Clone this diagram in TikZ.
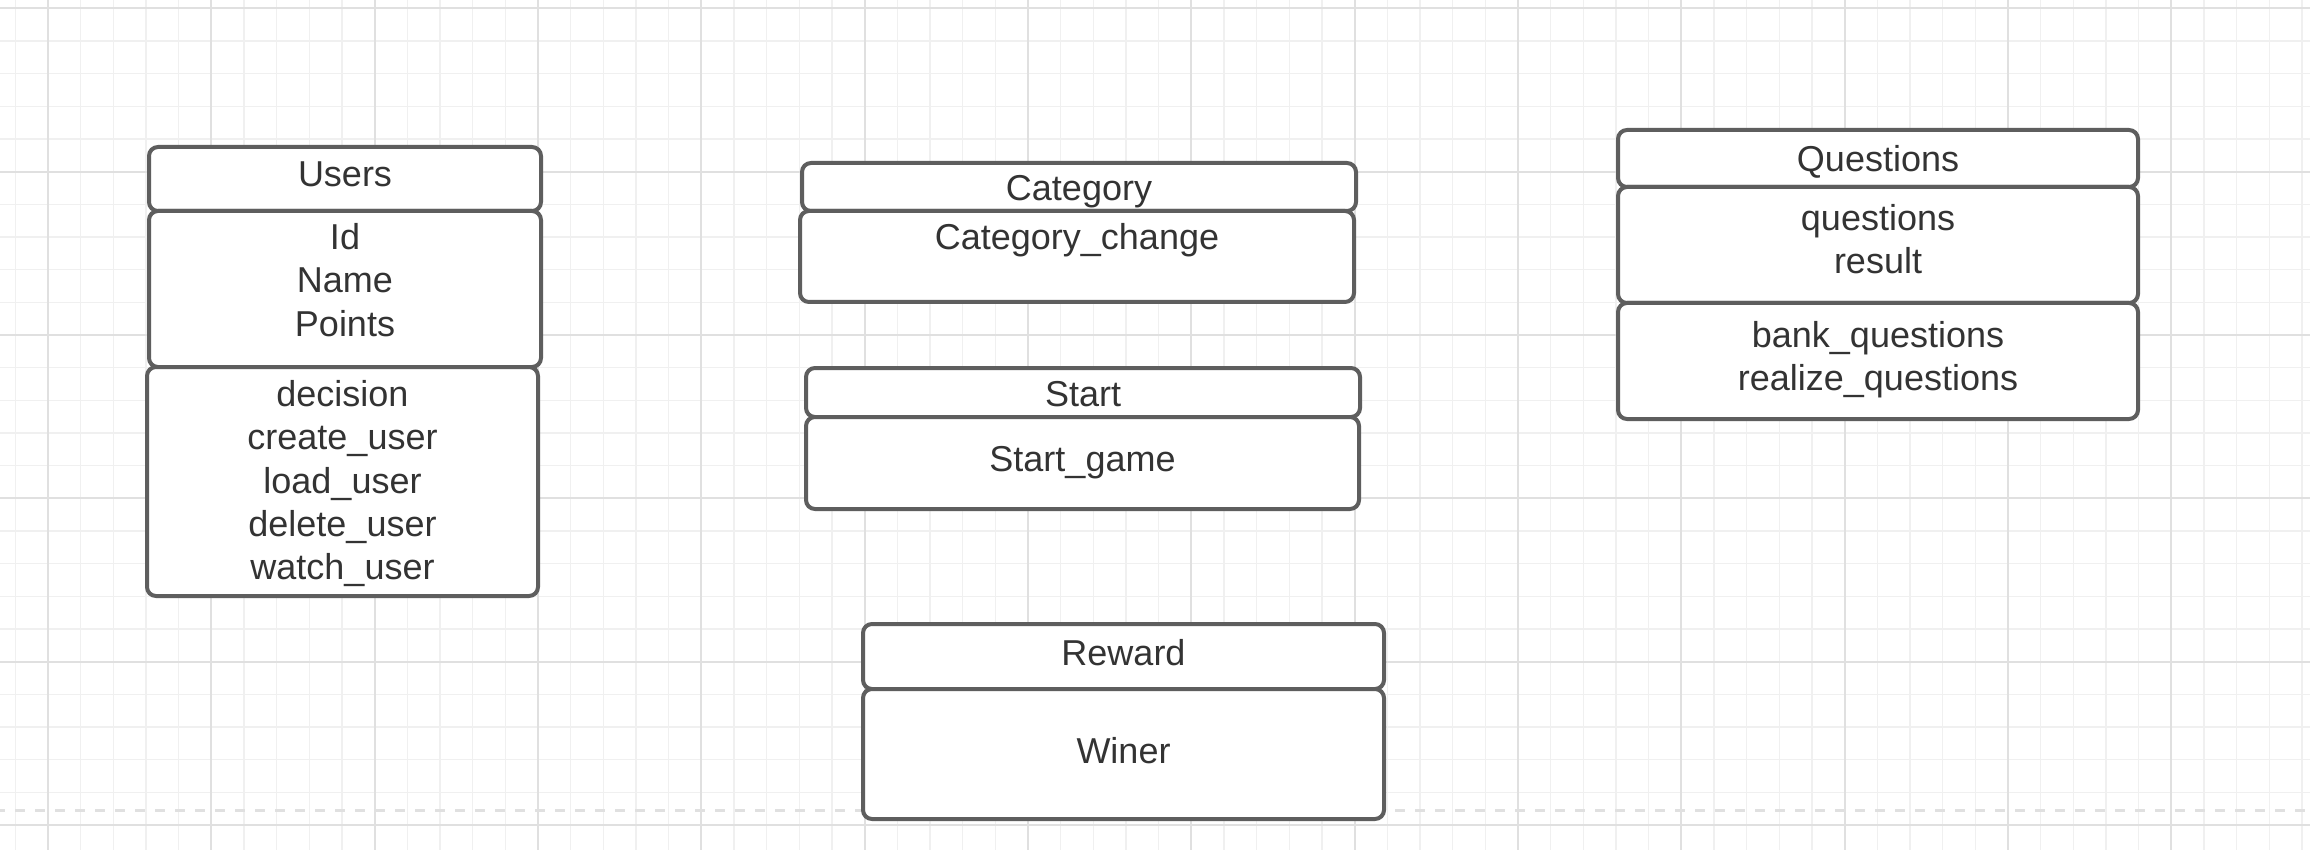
\documentclass[tikz,border=0pt]{standalone}
\usepackage{fontspec}
\setmainfont{Liberation Sans}
\definecolor{gridminor}{HTML}{F0F0F0}
\definecolor{gridmajor}{HTML}{E0E0E0}
\definecolor{boxline}{HTML}{5E5E5E}
\definecolor{txt}{HTML}{333333}
\begin{document}
\begin{tikzpicture}[x=1pt,y=-1pt,
  compbox/.style={draw=boxline, line width=4pt, fill=white, rounded corners=9pt, rectangle, inner sep=0pt, outer sep=0pt},
  lbl/.style={anchor=base, inner sep=0pt, text=txt, font=\fontsize{36}{43}\selectfont, yshift=-1.5pt},
  minorline/.style={draw=gridminor, line width=1.3pt},
  majorline/.style={draw=gridmajor, line width=1.8pt},
  pagebreak/.style={draw=gridmajor, line width=3pt, dash pattern=on 10pt off 10pt, dash phase=5pt}]
\useasboundingbox (0,0) rectangle (2310,850);
\fill[white] (0,0) rectangle (2310,850);
\begin{scope}
\clip (0,0) rectangle (2310,850);
\foreach \i in {-2,...,70} {
  \draw[minorline] ({48+\i*32.6667},0) -- ({48+\i*32.6667},850);
}
\foreach \j in {-1,...,26} {
  \draw[minorline] (0,{825-\j*32.6667}) -- (2310,{825-\j*32.6667});
}
\foreach \i in {0,...,14} {
  \draw[majorline] ({48+\i*163.3333},0) -- ({48+\i*163.3333},850);
}
\foreach \j in {0,...,5} {
  \draw[majorline] (0,{825-\j*163.3333}) -- (2310,{825-\j*163.3333});
}
\end{scope}
\coordinate (pbL) at (0,810);
\coordinate (pbR) at (2310,810);
\draw[pagebreak] (pbL) -- (pbR);

% Users
\node[compbox, minimum width=392pt, minimum height=64pt]  (usersH) at (345,179) {};
\node[compbox, minimum width=392pt, minimum height=156pt] (usersA) at (345,289) {};
\node[compbox, minimum width=391pt, minimum height=229pt] (usersM) at (342.5,481.5) {};
\node[lbl] (tUsers) at (345,185) {Users};
\node[lbl] (tId) at (345,248) {Id};
\node[lbl] (tName) at (345,291.5) {Name};
\node[lbl] (tPoints) at (345,335) {Points};
\node[lbl] (tDecision) at (342.5,405) {decision};
\node[lbl] (tCreate) at (342.5,448) {create\_user};
\node[lbl] (tLoad) at (342.5,492) {load\_user};
\node[lbl] (tDelete) at (342.5,535) {delete\_user};
\node[lbl] (tWatch) at (342.5,578) {watch\_user};

% Category
\node[compbox, minimum width=554pt, minimum height=48pt] (catH) at (1079,187) {};
\node[compbox, minimum width=554pt, minimum height=91pt] (catB) at (1077,256.5) {};
\node[lbl] (tCat) at (1079,199) {Category};
\node[lbl] (tCatChange) at (1077,248) {Category\_change};

% Start
\node[compbox, minimum width=554pt, minimum height=49pt] (startH) at (1083,392.5) {};
\node[compbox, minimum width=553pt, minimum height=92pt] (startB) at (1082.5,463) {};
\node[lbl] (tStart) at (1083,405) {Start};
\node[lbl] (tStartGame) at (1082.5,470) {Start\_game};

% Reward
\node[compbox, minimum width=521pt, minimum height=65pt]  (rewH) at (1123.5,656.5) {};
\node[compbox, minimum width=521pt, minimum height=130pt] (rewB) at (1123.5,754) {};
\node[lbl] (tReward) at (1123.5,664) {Reward};
\node[lbl] (tWiner) at (1123.5,762) {Winer};

% Questions
\node[compbox, minimum width=520pt, minimum height=57pt]  (qH) at (1878,158.5) {};
\node[compbox, minimum width=520pt, minimum height=116pt] (qA) at (1878,245) {};
\node[compbox, minimum width=520pt, minimum height=116pt] (qM) at (1878,361) {};
\node[lbl] (tQuestions) at (1878,170) {Questions};
\node[lbl] (tq) at (1878,229) {questions};
\node[lbl] (tResult) at (1878,272.5) {result};
\node[lbl] (tBank) at (1878,346) {bank\_questions};
\node[lbl] (tRealize) at (1878,389) {realize\_questions};
\end{tikzpicture}
\end{document}
